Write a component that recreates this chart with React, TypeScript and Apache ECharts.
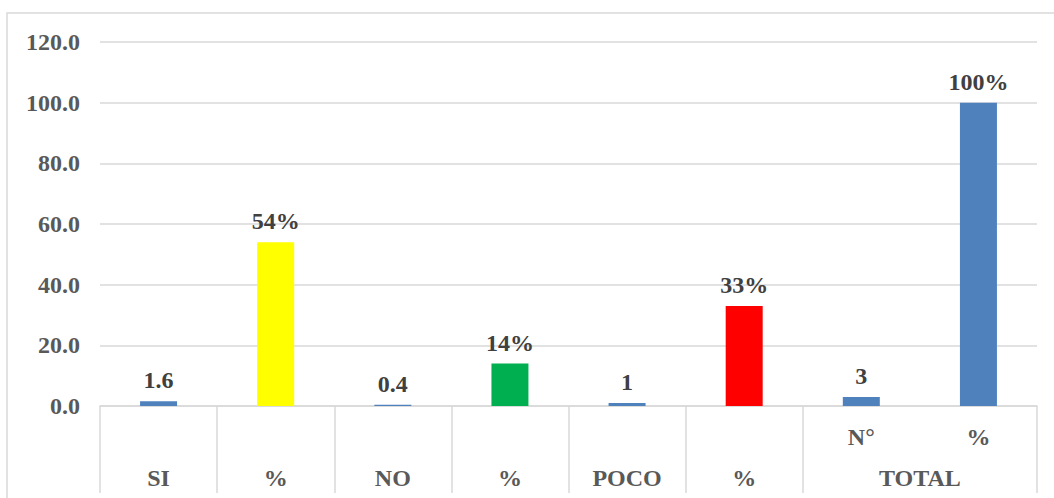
import React, { useEffect, useRef } from "react";
import * as echarts from "echarts";

// Bar values: counts (SI / NO / POCO / TOTAL N°) and their percentages
const values = [1.6, 54, 0.4, 14, 1, 33, 3, 100];
const valueLabels = ["1.6", "54%", "0.4", "14%", "1", "33%", "3", "100%"];
const barColors = ["#4F81BD", "#FFFF00", "#4F81BD", "#00B050", "#4F81BD", "#FF0000", "#4F81BD", "#4F81BD"];

// Two-level category axis
const columnKeys = ["c1", "c2", "c3", "c4", "c5", "c6", "c7", "c8"];
const upperLabels = ["", "", "", "", "", "", "N°", "%"];
const lowerLabels = ["SI", "%", "NO", "%", "POCO", "%", "", ""];
const groupKeys = ["g1", "g2", "g3", "g4"];
const groupLabels = ["", "", "", "TOTAL"];

const yTicks = { min: 0, max: 120, interval: 20 };

const FONT = "'Liberation Serif', 'Times New Roman', serif";
const GRID_COLOR = "#d9d9d9";
const FONT_SIZE = 24;

export default function App() {
  const ref = useRef<HTMLDivElement>(null);

  useEffect(() => {
    if (!ref.current) return;
    const chart = echarts.init(ref.current, null, { renderer: "svg" });
    const axisText = {
      color: "#595959",
      fontFamily: FONT,
      fontWeight: "bold",
      fontSize: FONT_SIZE,
    };
    chart.setOption({
      animation: false,
      backgroundColor: "#ffffff",
      grid: { left: 100, right: 17, top: 42, bottom: 92, containLabel: false },
      graphic: [
        {
          type: "rect",
          silent: true,
          shape: { x: 7, y: 13, width: 1100, height: 600 },
          style: { fill: "none", stroke: GRID_COLOR, lineWidth: 1.5 },
        },
      ],
      xAxis: [
        {
          type: "category",
          data: columnKeys,
          position: "bottom",
          axisLine: { show: true, lineStyle: { color: GRID_COLOR, width: 1.5 } },
          axisTick: {
            show: true,
            length: 87,
            interval: (i: number) => i !== 7,
            lineStyle: { color: GRID_COLOR, width: 1.5 },
          },
          axisLabel: {
            interval: 0,
            margin: 19,
            formatter: (_v: string, i: number) => upperLabels[i],
            ...axisText,
          },
          splitLine: { show: false },
        },
        {
          type: "category",
          data: columnKeys,
          position: "bottom",
          axisLine: { show: false },
          axisTick: { show: false },
          axisLabel: {
            interval: 0,
            margin: 60,
            formatter: (_v: string, i: number) => lowerLabels[i],
            ...axisText,
          },
        },
        {
          type: "category",
          data: groupKeys,
          position: "bottom",
          axisLine: { show: false },
          axisTick: { show: false },
          axisLabel: {
            interval: 0,
            margin: 60,
            formatter: (_v: string, i: number) => groupLabels[i],
            ...axisText,
          },
        },
      ],
      yAxis: {
        type: "value",
        min: yTicks.min,
        max: yTicks.max,
        interval: yTicks.interval,
        axisLine: { show: false },
        axisTick: { show: false },
        splitLine: { lineStyle: { color: GRID_COLOR, width: 1.5 } },
        axisLabel: {
          margin: 20,
          formatter: (v: number) => v.toFixed(1),
          ...axisText,
        },
      },
      series: [
        {
          type: "bar",
          xAxisIndex: 0,
          barWidth: 37,
          data: values.map((v, i) => ({ value: v, itemStyle: { color: barColors[i] } })),
          label: {
            show: true,
            position: "top",
            distance: 9,
            formatter: (p: any) => valueLabels[p.dataIndex],
            color: "#404040",
            fontFamily: FONT,
            fontWeight: "bold",
            fontSize: FONT_SIZE,
          },
        },
      ],
    });
    return () => chart.dispose();
  }, []);

  return (
    <div
      ref={ref}
      style={{ position: "fixed", left: 0, top: 0, width: 1054, height: 498 }}
    />
  );
}
